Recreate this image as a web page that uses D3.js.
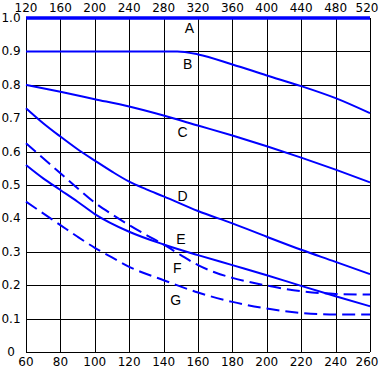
<!DOCTYPE html>
<html lang="en">
    <head>
        <meta charset="utf-8">
        <title>Curves A-G</title>
        <script type="text/javascript" src="https://cdn.jsdelivr.net/npm/d3@7"></script>
        <style>
            body { margin: 0; background: #fff; }
        </style>
    </head>
    <body>
        <script type="text/javascript">
        // tick labels
        var bottomTicks = [60, 80, 100, 120, 140, 160, 180, 200, 220, 240, 260];
        var topTicks = [120, 160, 200, 240, 280, 320, 360, 400, 440, 480, 520];
        var yTicks = [0, 0.1, 0.2, 0.3, 0.4, 0.5, 0.6, 0.7, 0.8, 0.9, 1.0];

        // curves (x on the bottom scale)
        var xA = [60, 260];
        var yA = [1.0, 1.0];
        var xB = [60, 148, 160, 180, 200, 220, 240, 260];
        var yB = [0.9, 0.9, 0.891, 0.861, 0.828, 0.796, 0.76, 0.715];
        var xC = [60, 80, 100, 120, 140, 160, 180, 200, 220, 240, 260];
        var yC = [0.80, 0.779, 0.757, 0.735, 0.708, 0.678, 0.648, 0.616, 0.582, 0.546, 0.508];
        var xD = [60, 70, 80, 90, 100, 110, 120, 130, 140, 160, 180, 200, 220, 240, 260];
        var yD = [0.73, 0.685, 0.645, 0.607, 0.573, 0.54, 0.51, 0.487, 0.466, 0.422, 0.385, 0.345, 0.306, 0.27, 0.233];
        var xE = [60, 70, 80, 90, 100, 120, 140, 160, 180, 200, 220, 240, 260];
        var yE = [0.56, 0.52, 0.485, 0.45, 0.413, 0.36, 0.322, 0.29, 0.26, 0.23, 0.198, 0.167, 0.137];
        var xF = [60, 70, 80, 90, 100, 110, 120, 130, 140, 150, 160, 170, 180, 200, 220, 240, 260];
        var yF = [0.625, 0.58, 0.535, 0.49, 0.447, 0.412, 0.38, 0.35, 0.322, 0.29, 0.26, 0.238, 0.222, 0.199, 0.182, 0.174, 0.172];
        var xG = [60, 70, 80, 90, 100, 110, 120, 140, 160, 180, 200, 220, 240, 260];
        var yG = [0.45, 0.415, 0.38, 0.345, 0.312, 0.283, 0.255, 0.215, 0.178, 0.15, 0.13, 0.117, 0.112, 0.112];

        // curve letters and where they sit
        var labels = ["A", "B", "C", "D", "E", "F", "G"];
        var labelX = [155, 154, 151, 151, 150, 148, 147];
        var labelY = [0.97, 0.862, 0.659, 0.467, 0.338, 0.251, 0.156];

        var w = 380;
        var h = 370;
        var padLeft = 26, padRight = 370, padTop = 18, padBottom = 352;
        var blue = "#0000ff";

        var xScale = d3.scaleLinear().domain([60, 260]).range([padLeft, padRight]);
        var xTopScale = d3.scaleLinear().domain([120, 520]).range([padLeft, padRight]);
        var yScale = d3.scaleLinear().domain([0, 1]).range([padBottom, padTop]);

        var svg = d3.select("body")
                    .append("svg")
                    .attr("width", w)
                    .attr("height", h)
                    .attr("font-family", "'DejaVu Sans', Verdana, sans-serif");

        // grid
        svg.append("g")
            .attr("shape-rendering", "crispEdges")
            .selectAll("line")
            .data(bottomTicks)
            .enter()
            .append("line")
            .attr("x1", function(d) { return Math.round(xScale(d)) + 0.5; })
            .attr("x2", function(d) { return Math.round(xScale(d)) + 0.5; })
            .attr("y1", padTop)
            .attr("y2", padBottom)
            .attr("stroke", "#000")
            .attr("stroke-width", 1.2);

        svg.append("g")
            .attr("shape-rendering", "crispEdges")
            .selectAll("line")
            .data(yTicks)
            .enter()
            .append("line")
            .attr("x1", padLeft)
            .attr("x2", padRight)
            .attr("y1", function(d) { return Math.round(yScale(d)) + 0.5; })
            .attr("y2", function(d) { return Math.round(yScale(d)) + 0.5; })
            .attr("stroke", "#000")
            .attr("stroke-width", 1.2);

        // tick labels
        svg.selectAll("text.bt")
            .data(bottomTicks)
            .enter()
            .append("text")
            .attr("class", "bt")
            .text(function(d) { return d; })
            .attr("x", function(d, i) { return xScale(d) - (i == bottomTicks.length - 1 ? 3 : 0); })
            .attr("y", 366)
            .attr("text-anchor", "middle")
            .attr("font-size", "12px")
            .attr("fill", "#000");

        svg.selectAll("text.tt")
            .data(topTicks)
            .enter()
            .append("text")
            .attr("class", "tt")
            .text(function(d) { return d; })
            .attr("x", function(d, i) { return xTopScale(d) - (i == topTicks.length - 1 ? 3 : 0); })
            .attr("y", 12)
            .attr("text-anchor", "middle")
            .attr("font-size", "12px")
            .attr("fill", "#000");

        svg.selectAll("text.yt")
            .data(yTicks)
            .enter()
            .append("text")
            .attr("class", "yt")
            .text(function(d) { return d == 0 ? "0" : d3.format(".1f")(d); })
            .attr("x", 11)
            .attr("y", function(d) { return yScale(d) + 4; })
            .attr("text-anchor", "middle")
            .attr("font-size", "12px")
            .attr("fill", "#000");

        // curves
        var line = d3.line()
                    .x(function(d) { return xScale(d[0]); })
                    .y(function(d) { return yScale(d[1]); })
                    .curve(d3.curveMonotoneX);

        var series = [
            {x: xA, y: yA, width: 3.5, dash: null},
            {x: xB, y: yB, width: 2, dash: null},
            {x: xC, y: yC, width: 2, dash: null},
            {x: xD, y: yD, width: 2, dash: null},
            {x: xE, y: yE, width: 2, dash: null},
            {x: xF, y: yF, width: 2, dash: "13,6"},
            {x: xG, y: yG, width: 2, dash: "13,6"}
        ];

        svg.selectAll("path.curve")
            .data(series)
            .enter()
            .append("path")
            .attr("class", "curve")
            .attr("d", function(s) { return line(d3.zip(s.x, s.y)); })
            .attr("fill", "none")
            .attr("stroke", blue)
            .attr("stroke-width", function(s) { return s.width; })
            .attr("stroke-dasharray", function(s) { return s.dash; });

        // curve letters
        svg.selectAll("text.lab")
            .data(labels)
            .enter()
            .append("text")
            .attr("class", "lab")
            .text(function(d) { return d; })
            .attr("x", function(d, i) { return xScale(labelX[i]); })
            .attr("y", function(d, i) { return yScale(labelY[i]) + 5; })
            .attr("text-anchor", "middle")
            .attr("font-family", "'Liberation Sans', Arial, sans-serif")
            .attr("font-size", "14px")
            .attr("fill", "#000");

        </script>
    </body>
</html>
